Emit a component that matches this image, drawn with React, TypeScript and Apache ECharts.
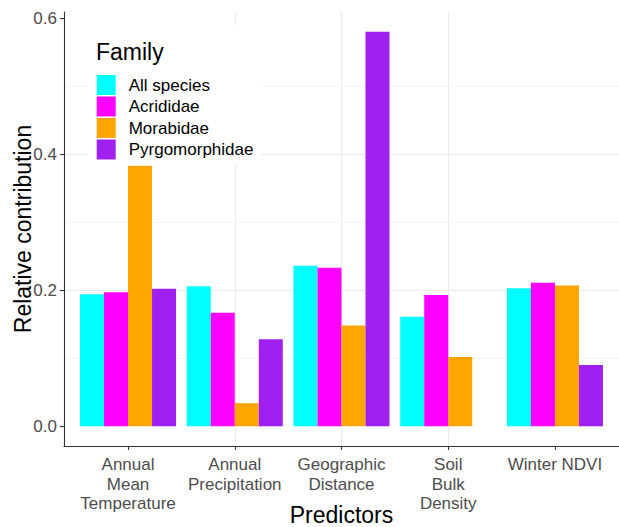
import React, { useEffect, useRef } from "react";
import * as echarts from "echarts";

// Predictor categories (x axis) and relative contributions per family
const categories = [
  "Annual\nMean\nTemperature",
  "Annual\nPrecipitation",
  "Geographic\nDistance",
  "Soil\nBulk\nDensity",
  "Winter NDVI",
];
const families = ["All species", "Acrididae", "Morabidae", "Pyrgomorphidae"];
const allSpecies = [0.194, 0.206, 0.236, 0.161, 0.203];
const acrididae = [0.197, 0.167, 0.233, 0.193, 0.211];
const morabidae = [0.383, 0.034, 0.148, 0.102, 0.207];
const pyrgomorphidae: (number | null)[] = [0.202, 0.128, 0.58, null, 0.09];
const yTicks = [0, 0.2, 0.4, 0.6];
const familyColors = ["#00FFFF", "#FF00FF", "#FFA500", "#A020F0"];

const FONT = "'Liberation Sans', Arial, Helvetica, sans-serif";

export default function App() {
  const ref = useRef<HTMLDivElement>(null);

  useEffect(() => {
    if (!ref.current) return;
    const chart = echarts.init(ref.current, undefined, { renderer: "svg" });
    const values = [allSpecies, acrididae, morabidae, pyrgomorphidae];
    const xPositions = categories.map((_, i) => i + 1);

    const series = families.map((name, s) => ({
      type: "bar",
      name,
      barWidth: 24,
      barGap: "0%",
      itemStyle: { color: familyColors[s] },
      data: values[s]
        .map((v, j) => (v == null ? null : [j + 1, v]))
        .filter((d) => d !== null),
    }));

    const axisLineStyle = { color: "#333333", width: 1.1 };
    const gridColor = "#EBEBEB";

    chart.setOption({
      animation: false,
      textStyle: { fontFamily: FONT },
      grid: {
        left: 64,
        right: 0,
        top: 12,
        bottom: 81,
        containLabel: false,
        outerBoundsMode: "none",
      },
      legend: {
        orient: "vertical",
        left: 88,
        top: 25,
        padding: [50, 8, 5, 8.7],
        backgroundColor: "#FFFFFF",
        itemWidth: 19,
        itemHeight: 20,
        itemGap: 1.5,
        icon: "rect",
        selectedMode: false,
        data: families,
        textStyle: {
          fontSize: 17,
          color: "#000000",
          fontFamily: FONT,
          lineHeight: 20,
          padding: [0, 0, 0, 8],
        },
      },
      xAxis: {
        type: "value",
        min: 0.4,
        max: 5.6,
        axisLine: { show: true, onZero: false, lineStyle: axisLineStyle },
        axisTick: {
          show: true,
          length: 4,
          customValues: xPositions,
          lineStyle: axisLineStyle,
        },
        axisLabel: {
          customValues: xPositions,
          formatter: (v: number) => categories[Math.round(v) - 1] ?? "",
          fontSize: 17,
          lineHeight: 19.5,
          color: "#4D4D4D",
          margin: 9,
          fontFamily: FONT,
        },
        splitLine: {
          show: true,
          showMinLine: false,
          showMaxLine: false,
          lineStyle: { color: gridColor, width: 1 },
        },
      },
      yAxis: {
        type: "value",
        min: -0.029,
        max: 0.609,
        splitNumber: 3,
        axisLine: { show: true, onZero: false, lineStyle: axisLineStyle },
        axisTick: {
          show: true,
          length: 4,
          customValues: yTicks,
          lineStyle: axisLineStyle,
        },
        axisLabel: {
          customValues: yTicks,
          formatter: (v: number) => v.toFixed(1),
          fontSize: 17,
          color: "#4D4D4D",
          margin: 7,
          fontFamily: FONT,
        },
        splitLine: {
          show: true,
          showMinLine: false,
          showMaxLine: false,
          lineStyle: { color: gridColor, width: 1 },
        },
        minorTick: { show: false, splitNumber: 2 },
        minorSplitLine: {
          show: true,
          lineStyle: { color: "#F2F2F2", width: 0.8 },
        },
      },
      graphic: [
        {
          type: "text",
          left: 96,
          top: 40,
          z: 10,
          style: {
            text: "Family",
            fontSize: 23,
            fill: "#000000",
            fontFamily: FONT,
          },
        },
        {
          type: "text",
          x: 23,
          y: 229,
          rotation: Math.PI / 2,
          style: {
            text: "Relative contribution",
            fontSize: 23,
            fill: "#000000",
            fontFamily: FONT,
            align: "center",
            verticalAlign: "middle",
          },
        },
        {
          type: "text",
          x: 341.5,
          y: 515,
          style: {
            text: "Predictors",
            fontSize: 23,
            fill: "#000000",
            fontFamily: FONT,
            align: "center",
            verticalAlign: "middle",
          },
        },
      ],
      series,
    });

    return () => chart.dispose();
  }, []);

  return (
    <div
      ref={ref}
      style={{ position: "absolute", left: 0, top: 0, width: 619, height: 527 }}
    />
  );
}
